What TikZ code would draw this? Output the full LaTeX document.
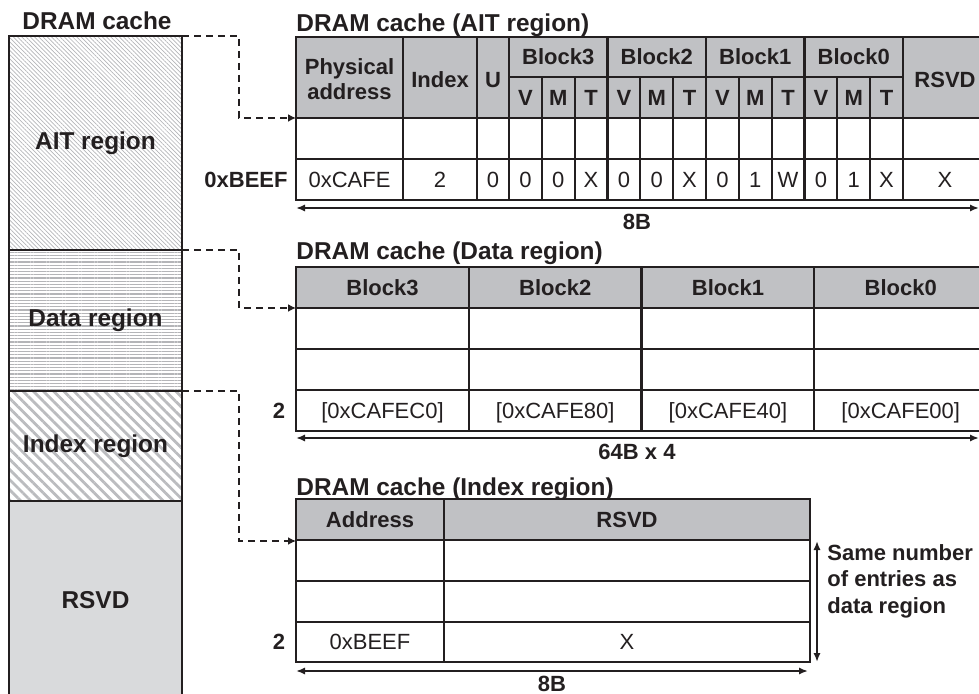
\documentclass[tikz,border=0pt]{standalone}
\usepackage{fontspec}
\setmainfont{Liberation Sans}
\usepackage{tikz}
\usetikzlibrary{arrows.meta, patterns.meta, positioning}
\definecolor{ink}{HTML}{231F20}
\definecolor{hdrgray}{HTML}{C0C1C4}
\definecolor{rsvdgray}{HTML}{D9DADC}
\definecolor{hatchgray}{HTML}{B4B5B8}

\begin{document}
\begin{tikzpicture}[
    x=0.5pt, y=-0.5pt,
    tbl/.style={draw=ink, line width=1.15pt},
    region/.style={draw=ink, line width=1.15pt, outer sep=0pt, inner sep=0pt,
        minimum width=86.5pt, text=ink, font=\bfseries\fontsize{12.2}{14}\selectfont},
    title/.style={anchor=base west, inner sep=0pt, text=ink, font=\bfseries\fontsize{12.2}{14}\selectfont},
    hd/.style={inner sep=0pt, text height=7.9pt, text depth=0pt, text=ink, font=\bfseries\fontsize{11}{12.5}\selectfont},
    val/.style={inner sep=0pt, text height=7.9pt, text depth=0pt, text=ink, font=\fontsize{11}{13}\selectfont},
    note/.style={inner sep=0pt, align=left, text=ink, font=\bfseries\fontsize{11}{13.2}\selectfont},
    dashlink/.style={draw=ink, line width=1.1pt, dash pattern=on 3.5pt off 2.5pt, -{Latex[length=4pt,width=4pt]}},
    dim/.style={draw=ink, line width=1.1pt, {Latex[length=4.5pt,width=3.6pt]}-{Latex[length=4.5pt,width=3.6pt]}}
]
    \useasboundingbox (0,0) rectangle (979,694);

    % Memory layout of the DRAM cache
    \node[title, anchor=base] (cachettl) at (97,30) {DRAM cache};
    \node[region, anchor=north west, minimum height=107pt,
        pattern={Lines[angle=-45,distance=1.5pt,line width=0.35pt]}, pattern color=hatchgray]
        (ait) at (9,36) {AIT region};
    \node[region, below=0pt of ait, minimum height=70.5pt,
        pattern={Lines[angle=0,distance=1.6pt,line width=0.6pt]}, pattern color=hatchgray]
        (data) {Data region};
    \node[region, below=0pt of data, minimum height=55pt,
        pattern={Lines[angle=-45,distance=3.6pt,line width=1.4pt]}, pattern color=hatchgray!90]
        (index) {Index region};
    \node[region, below=0pt of index, minimum height=99pt, fill=rsvdgray] (rsvd) {RSVD};

    % AIT region table
    \node[title] (aitttl) at (296,32) {DRAM cache (AIT region)};
    \fill[hdrgray] (296,37) rectangle (987,118);
    \draw[tbl] (296,37) rectangle (987,200);
    \foreach \yy in {118,159} \draw[tbl] (296,\yy) -- (987,\yy);
    \draw[tbl] (509,77) -- (903,77);
    \foreach \xx in {403,477,509,607.5,706,804.5,903} \draw[tbl] (\xx,37) -- (\xx,200);
    \foreach \k in {1,2,4,5,7,8,10,11} \draw[tbl] ({509+32.833*\k},77) -- ({509+32.833*\k},200);
    \node[inner sep=0pt, align=center, text=ink, font=\bfseries\fontsize{11}{12.5}\selectfont]
        (physaddr) at (349.5,79) {Physical\\address};
    \node[hd] (idxhd) at (440,80) {Index};
    \node[hd] (uhd) at (493,80) {U};
    \node[hd] (rsvdhd) at (945,80) {RSVD};
    \foreach \b [count=\k from 0] in {3,2,1,0}
        \node[hd] (blk\b) at ({558.25+98.5*\k},57) {Block\b};
    \foreach \f [count=\k from 0] in {V,M,T,V,M,T,V,M,T,V,M,T}
        \node[hd] (fld\k) at ({525.4+32.833*\k},98) {\f};
    \node[hd, anchor=east] (beef) at (288,180) {0xBEEF};
    \node[val] (pa) at (349.5,180) {0xCAFE};
    \node[val] (idx) at (440,180) {2};
    \node[val] (u) at (493,180) {0};
    \foreach \v [count=\k from 0] in {0,0,X,0,0,X,0,1,W,0,1,X}
        \node[val] (bit\k) at ({525.4+32.833*\k},180) {\v};
    \node[val] (aitrsvd) at (945,180) {X};
    \coordinate (ait8l) at (296,208);
    \coordinate (ait8r) at (979,208);
    \draw[dim] (ait8l) -- (ait8r);
    \node[hd] (ait8) at (637,222) {8B};

    % Data region table
    \node[title] (datattl) at (296,260) {DRAM cache (Data region)};
    \fill[hdrgray] (296,267) rectangle (987,308);
    \draw[tbl] (296,267) rectangle (987,431);
    \foreach \yy in {308,349,390} \draw[tbl] (296,\yy) -- (987,\yy);
    \foreach \xx in {469,641.5,814} \draw[tbl] (\xx,267) -- (\xx,431);
    \foreach \b/\a [count=\k from 0] in {3/C0,2/80,1/40,0/00} {
        \node[hd] (dblk\b) at ({382.5+172.75*\k},287.5) {Block\b};
        \node[val] (dadr\b) at ({382.5+172.75*\k},410.5) {[0xCAFE\a]};
    }
    \node[hd] (drow) at (279,410.5) {2};
    \coordinate (data64l) at (296,438);
    \coordinate (data64r) at (979,438);
    \draw[dim] (data64l) -- (data64r);
    \node[hd] (data64) at (637,452) {64B x 4};

    % Index region table
    \node[title] (idxttl) at (296,495) {DRAM cache (Index region)};
    \fill[hdrgray] (296,499) rectangle (810,540);
    \draw[tbl] (296,499) rectangle (810,662);
    \foreach \yy in {540,581,622} \draw[tbl] (296,\yy) -- (810,\yy);
    \draw[tbl] (444,499) -- (444,662);
    \node[hd] (addrhd) at (370,519.5) {Address};
    \node[hd] (irsvdhd) at (627,519.5) {RSVD};
    \node[val] (iaddr) at (370,642) {0xBEEF};
    \node[val] (irsvd) at (627,642) {X};
    \node[hd] (irow) at (279,642) {2};
    \coordinate (idx8l) at (296,671);
    \coordinate (idx8r) at (808,671);
    \draw[dim] (idx8l) -- (idx8r);
    \node[hd] (idx8) at (552,684) {8B};
    \coordinate (cnttop) at (817,541);
    \coordinate (cntbot) at (817,662);
    \draw[dim] (cnttop) -- (cntbot);
    \node[note, anchor=west] (samenote) at (827,581) {Same number\\of entries as\\data region};

    % Regions to tables
    \coordinate (aitin) at (296,118);
    \coordinate (datain) at (296,308);
    \coordinate (idxin) at (296,541);
    \draw[dashlink] (ait.north east) -- ++(57,0) |- (aitin);
    \draw[dashlink] (data.north east) -- ++(57,0) |- (datain);
    \draw[dashlink] (index.north east) -- ++(57,0) |- (idxin);
\end{tikzpicture}
\end{document}
